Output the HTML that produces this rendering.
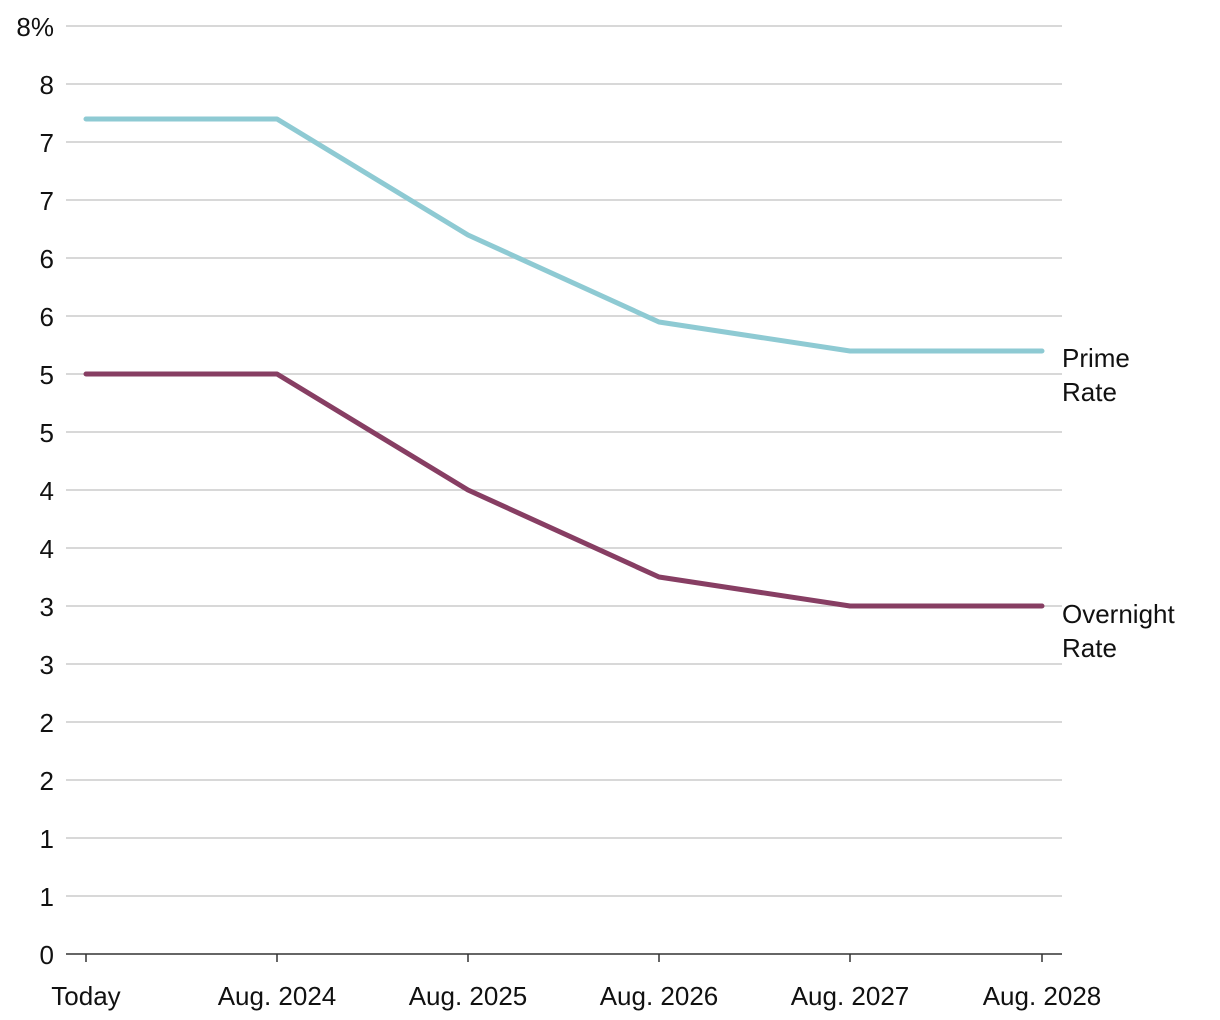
<!DOCTYPE html>
<html><head><meta charset="utf-8"><style>
html,body{margin:0;padding:0;background:#fff;}
svg{display:block;font-family:"Liberation Sans",sans-serif;}
</style></head><body>
<svg width="1220" height="1020" viewBox="0 0 1220 1020">
<g stroke="#cccccc" stroke-width="1.5">
<line x1="66" x2="1062" y1="26" y2="26"/><line x1="66" x2="1062" y1="84" y2="84"/>
<line x1="66" x2="1062" y1="142" y2="142"/><line x1="66" x2="1062" y1="200" y2="200"/>
<line x1="66" x2="1062" y1="258" y2="258"/><line x1="66" x2="1062" y1="316" y2="316"/>
<line x1="66" x2="1062" y1="374" y2="374"/><line x1="66" x2="1062" y1="432" y2="432"/>
<line x1="66" x2="1062" y1="490" y2="490"/><line x1="66" x2="1062" y1="548" y2="548"/>
<line x1="66" x2="1062" y1="606" y2="606"/><line x1="66" x2="1062" y1="664" y2="664"/>
<line x1="66" x2="1062" y1="722" y2="722"/><line x1="66" x2="1062" y1="780" y2="780"/>
<line x1="66" x2="1062" y1="838" y2="838"/><line x1="66" x2="1062" y1="896" y2="896"/>
</g>
<line x1="66" x2="1062" y1="954" y2="954" stroke="#333" stroke-width="1.5"/>
<g stroke="#333" stroke-width="1.5">
<line x1="86" x2="86" y1="954" y2="962"/><line x1="277" x2="277" y1="954" y2="962"/>
<line x1="468" x2="468" y1="954" y2="962"/><line x1="659" x2="659" y1="954" y2="962"/>
<line x1="850" x2="850" y1="954" y2="962"/><line x1="1042" x2="1042" y1="954" y2="962"/>
</g>
<g font-size="26" fill="#111" text-anchor="end">
<text x="54" y="36">8%</text><text x="54" y="94">8</text><text x="54" y="152">7</text>
<text x="54" y="210">7</text><text x="54" y="268">6</text><text x="54" y="326">6</text>
<text x="54" y="384">5</text><text x="54" y="442">5</text><text x="54" y="500">4</text>
<text x="54" y="558">4</text><text x="54" y="616">3</text><text x="54" y="674">3</text>
<text x="54" y="732">2</text><text x="54" y="790">2</text><text x="54" y="848">1</text>
<text x="54" y="906">1</text><text x="54" y="964">0</text>
</g>
<g font-size="26" fill="#111" text-anchor="middle">
<text x="86" y="1005">Today</text><text x="277" y="1005">Aug. 2024</text>
<text x="468" y="1005">Aug. 2025</text><text x="659" y="1005">Aug. 2026</text>
<text x="850" y="1005">Aug. 2027</text><text x="1042" y="1005">Aug. 2028</text>
</g>
<polyline points="86,119 277,119 468,235 659,322 850,351 1042,351" fill="none" stroke="#8ecad3" stroke-width="5" stroke-linecap="round" stroke-linejoin="round"/>
<polyline points="86,374 277,374 468,490 659,577 850,606 1042,606" fill="none" stroke="#873e63" stroke-width="5" stroke-linecap="round" stroke-linejoin="round"/>
<g font-size="26" fill="#111">
<text x="1062" y="367">Prime</text><text x="1062" y="401">Rate</text>
<text x="1062" y="623">Overnight</text><text x="1062" y="657">Rate</text>
</g>
</svg>
</body></html>
